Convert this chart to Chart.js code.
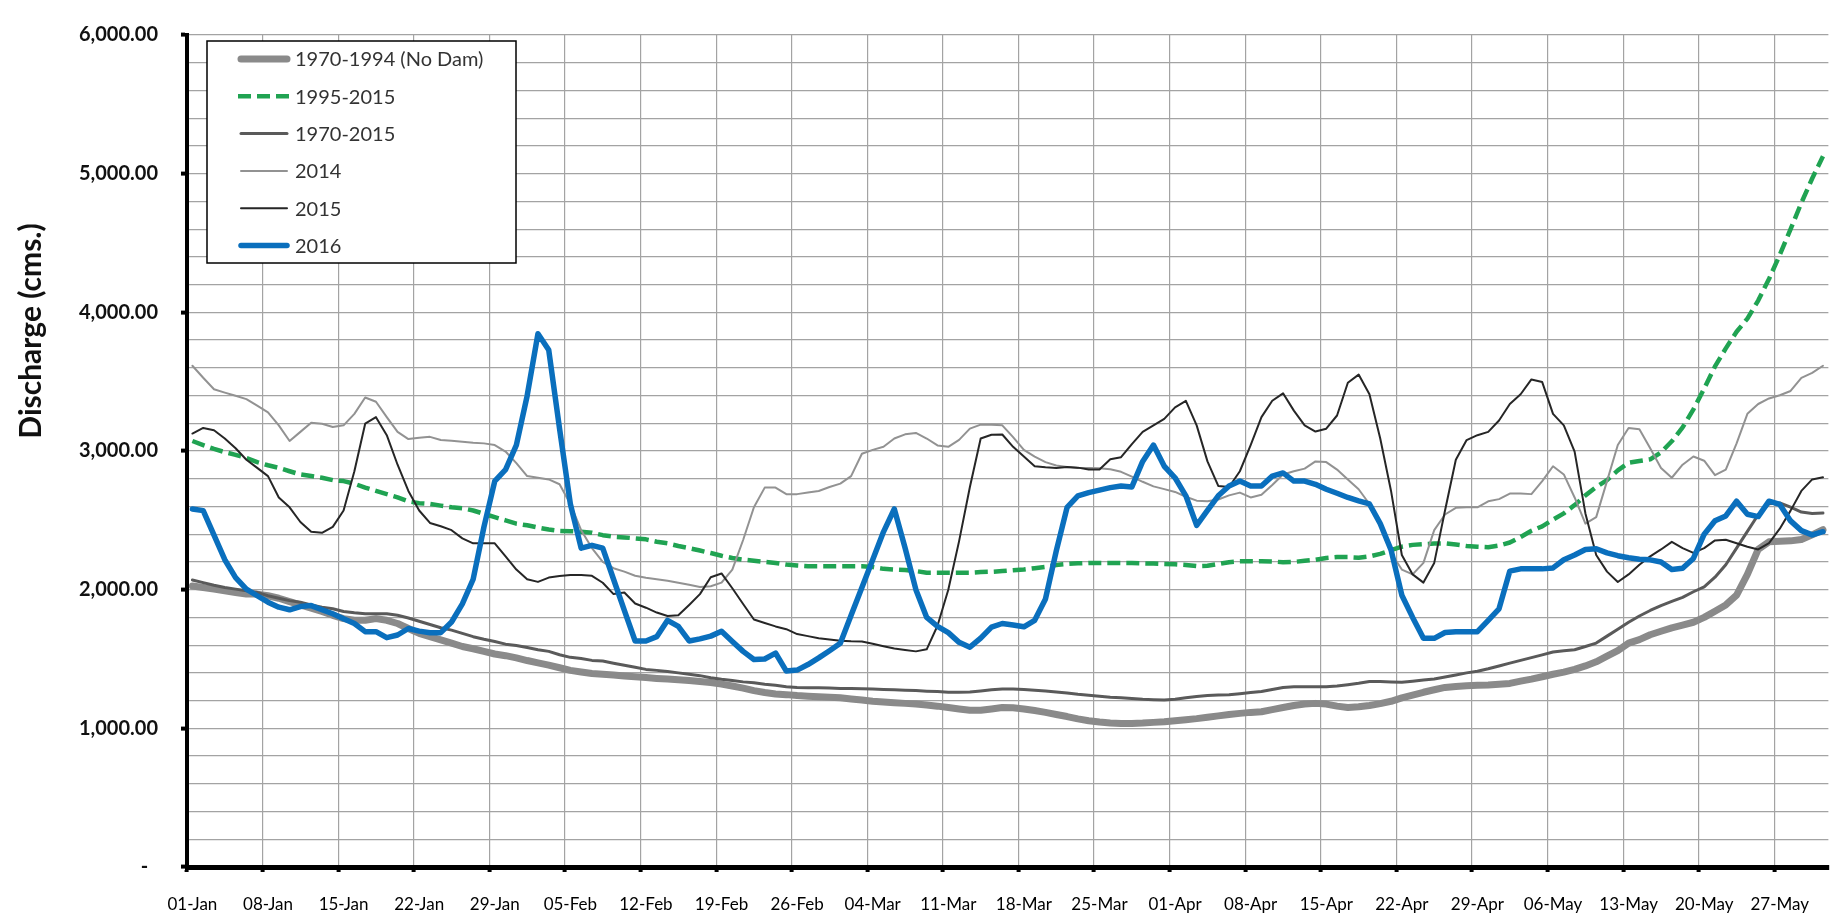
<!DOCTYPE html>
<html>
<head>
<meta charset="utf-8">
<title>Discharge (cms.)</title>
<script src="https://cdn.jsdelivr.net/npm/chart.js@4.4.1/dist/chart.umd.min.js"></script>
<style>
  html, body { margin: 0; padding: 0; background: #ffffff; overflow: hidden; }
  #wrap { width: 1845px; height: 916px; position: relative; }
</style>
</head>
<body>
<div id="wrap"><canvas id="chart" width="1845" height="916"></canvas></div>
<script>
// Calendar of the daily slots (Jan 1 - May 31, leap year)
const monthNames = ['Jan', 'Feb', 'Mar', 'Apr', 'May'];
const monthLengths = [31, 29, 31, 30, 31];
const dayLabels = [];
monthNames.forEach((m, k) => {
  for (let d = 1; d <= monthLengths[k]; d++) dayLabels.push(String(d).padStart(2, '0') + '-' + m);
});
const labelEvery = 7;   // one labelled tick per week

// Daily discharge, cms.
const avgNoDam = [
  2027,2016,2004,1992,1980,1968,1968,1956,1938,1914,
  1890,1867,1843,1815,1791,1779,1779,1791,1779,1756,
  1720,1685,1661,1638,1614,1590,1574,1555,1536,1524,
  1508,1489,1472,1456,1437,1418,1406,1395,1390,1385,
  1378,1372,1366,1360,1355,1350,1345,1338,1330,1319,
  1305,1290,1272,1258,1248,1243,1236,1232,1228,1225,
  1220,1212,1205,1196,1190,1185,1180,1175,1168,1160,
  1150,1140,1130,1130,1140,1150,1148,1140,1128,1115,
  1100,1085,1068,1055,1045,1038,1035,1035,1038,1043,
  1048,1055,1062,1070,1080,1090,1100,1108,1115,1120,
  1135,1150,1165,1175,1180,1175,1160,1150,1155,1165,
  1178,1195,1220,1240,1260,1278,1295,1302,1307,1310,
  1313,1318,1324,1340,1355,1372,1390,1405,1425,1450,
  1480,1520,1560,1615,1640,1675,1700,1725,1745,1765,
  1800,1845,1890,1960,2110,2290,2345,2350,2352,2362,
  2395,2432
];
const avgWithDam = [
  3072,3043,3015,2992,2972,2949,2920,2897,2878,2854,
  2831,2819,2807,2790,2783,2764,2736,2712,2689,2665,
  2637,2623,2618,2606,2594,2587,2571,2547,2523,2500,
  2476,2464,2448,2434,2424,2422,2417,2410,2393,2382,
  2377,2370,2363,2346,2334,2315,2299,2282,2264,2245,
  2228,2216,2209,2200,2193,2181,2174,2169,2169,2169,
  2169,2169,2169,2164,2150,2145,2141,2134,2122,2122,
  2122,2122,2122,2127,2129,2134,2140,2145,2155,2165,
  2178,2185,2190,2193,2193,2193,2193,2192,2190,2188,
  2185,2183,2178,2170,2172,2185,2198,2205,2205,2205,
  2203,2198,2200,2208,2215,2228,2235,2235,2230,2240,
  2258,2285,2310,2323,2328,2333,2334,2325,2315,2310,
  2306,2318,2340,2380,2425,2457,2505,2550,2610,2680,
  2740,2790,2860,2915,2928,2940,2990,3070,3170,3300,
  3450,3610,3740,3860,3955,4085,4240,4415,4600,4790,
  4965,5125
];
const avgAllYears = [
  2070,2051,2032,2016,2004,1992,1980,1956,1938,1921,
  1909,1890,1874,1862,1843,1834,1827,1827,1827,1815,
  1796,1772,1749,1725,1708,1685,1661,1642,1626,1607,
  1598,1583,1567,1555,1531,1512,1503,1490,1485,1470,
  1455,1440,1425,1418,1410,1400,1390,1380,1365,1354,
  1345,1335,1328,1318,1310,1300,1295,1293,1292,1290,
  1288,1287,1285,1283,1280,1278,1275,1272,1268,1265,
  1260,1260,1262,1270,1278,1283,1283,1280,1275,1270,
  1262,1255,1245,1238,1232,1225,1220,1215,1210,1207,
  1205,1210,1220,1230,1236,1240,1243,1250,1258,1265,
  1280,1295,1300,1300,1300,1300,1305,1315,1325,1338,
  1338,1335,1332,1340,1348,1356,1370,1385,1400,1412,
  1430,1450,1470,1490,1510,1530,1550,1560,1567,1590,
  1615,1665,1715,1765,1810,1850,1885,1915,1945,1985,
  2020,2090,2180,2300,2420,2540,2620,2625,2595,2560,
  2550,2552
];
const year2014 = [
  3615,3528,3445,3421,3398,3374,3327,3279,3185,3072,
  3138,3204,3197,3173,3185,3268,3386,3355,3244,3138,
  3086,3095,3102,3079,3074,3067,3060,3055,3043,2996,
  2913,2819,2807,2795,2760,2618,2429,2300,2200,2155,
  2130,2100,2086,2075,2065,2050,2035,2020,2025,2051,
  2145,2358,2594,2736,2736,2689,2689,2700,2712,2740,
  2765,2819,2980,3008,3031,3090,3120,3130,3090,3040,
  3030,3080,3161,3190,3190,3185,3100,3008,2960,2920,
  2895,2885,2878,2878,2875,2868,2850,2815,2778,2745,
  2725,2705,2670,2642,2637,2650,2680,2700,2665,2685,
  2755,2831,2854,2873,2925,2920,2866,2795,2724,2618,
  2464,2264,2145,2110,2193,2429,2542,2590,2594,2594,
  2637,2653,2693,2693,2689,2783,2890,2831,2665,2476,
  2523,2783,3043,3166,3157,3020,2878,2807,2901,2960,
  2930,2826,2866,3055,3268,3339,3379,3402,3433,3527,
  3563,3615
];
const year2015 = [
  3126,3166,3150,3090,3020,2937,2878,2819,2665,2594,
  2488,2417,2410,2453,2571,2854,3197,3244,3114,2901,
  2712,2571,2481,2457,2429,2370,2334,2334,2334,2240,
  2145,2075,2056,2087,2098,2106,2106,2100,2050,1968,
  1980,1900,1870,1835,1810,1815,1890,1968,2090,2117,
  2010,1897,1785,1760,1735,1715,1680,1665,1649,1640,
  1632,1628,1626,1610,1592,1575,1565,1555,1570,1740,
  2000,2350,2740,3090,3117,3119,3030,2960,2890,2882,
  2878,2885,2880,2866,2866,2940,2955,3050,3138,3185,
  3232,3315,3362,3185,2925,2748,2740,2854,3043,3244,
  3362,3416,3291,3185,3140,3161,3256,3492,3551,3409,
  3090,2712,2250,2110,2051,2193,2571,2937,3079,3114,
  3138,3220,3339,3409,3516,3497,3268,3185,2996,2550,
  2250,2130,2055,2110,2180,2240,2290,2345,2300,2265,
  2300,2355,2360,2335,2310,2290,2335,2440,2570,2712,
  2795,2810
];
const year2016 = [
  2582,2570,2393,2216,2087,2004,1956,1910,1874,1855,
  1878,1885,1855,1826,1791,1756,1697,1697,1654,1673,
  1720,1701,1690,1690,1767,1897,2075,2453,2783,2866,
  3043,3398,3846,3728,3161,2618,2299,2320,2299,2075,
  1850,1630,1630,1661,1779,1735,1630,1645,1665,1700,
  1626,1555,1496,1500,1543,1413,1420,1460,1508,1560,
  1614,1815,2016,2216,2417,2582,2300,2000,1800,1735,
  1690,1620,1585,1650,1730,1756,1745,1732,1779,1933,
  2280,2594,2677,2700,2718,2736,2748,2741,2925,3043,
  2890,2807,2677,2464,2571,2677,2748,2783,2748,2748,
  2819,2842,2783,2783,2760,2724,2695,2665,2640,2618,
  2476,2287,1960,1800,1649,1649,1691,1697,1697,1697,
  1779,1862,2134,2150,2150,2150,2157,2216,2250,2290,
  2295,2265,2245,2230,2220,2215,2200,2145,2155,2225,
  2400,2497,2532,2638,2544,2527,2638,2615,2496,2426,
  2395,2418
];

const seriesNames = ['1970-1994 (No Dam)', '1995-2015', '1970-2015', '2014', '2015', '2016'];

const gridColor = '#a3a3a3';
const fmtTick = v => v === 0 ? '-  ' : v.toLocaleString('en-US', { minimumFractionDigits: 2, maximumFractionDigits: 2 });

// Boxed legend in the upper-left corner of the plot
const boxedLegend = {
  id: 'boxedLegend',
  afterDraw(chart) {
    const c = chart.ctx;
    c.save();
    const left = 207, top = 41, width = 309, height = 222;
    c.fillStyle = '#ffffff';
    c.fillRect(left, top, width, height);
    c.strokeStyle = '#000000';
    c.lineWidth = 1.5;
    c.strokeRect(left, top, width, height);
    chart.data.datasets.forEach((ds, i) => {
      const y = 59 + i * 37.3;
      c.beginPath();
      c.setLineDash(ds.borderDash || []);
      c.lineCap = ds.borderDash ? 'butt' : 'round';
      c.lineWidth = ds.borderWidth;
      c.strokeStyle = ds.borderColor;
      c.moveTo(ds.borderDash ? 238 : 241, y);
      c.lineTo(ds.borderDash ? 289 : 287, y);
      c.stroke();
      c.setLineDash([]);
      c.fillStyle = '#333333';
      c.font = '20px Lato';
      c.textAlign = 'left';
      c.textBaseline = 'middle';
      c.fillText(ds.label, 295, y + 1);
    });
    c.restore();
  }
};

// Vertical value-axis caption
const axisCaption = {
  id: 'axisCaption',
  afterDraw(chart) {
    const c = chart.ctx;
    c.save();
    c.translate(31, 331);
    c.rotate(-Math.PI / 2);
    c.font = 'bold 30px Lato';
    c.fillStyle = '#111111';
    c.textAlign = 'center';
    c.textBaseline = 'middle';
    c.fillText('Discharge (cms.)', 0, 0);
    c.restore();
  }
};

function draw() {
  const ctx = document.getElementById('chart').getContext('2d');
  new Chart(ctx, {
    type: 'line',
    data: {
      labels: dayLabels,
      datasets: [
        { label: seriesNames[0], data: avgNoDam,   borderColor: '#8a8a8a', borderWidth: 7,   order: 6 },
        { label: seriesNames[1], data: avgWithDam, borderColor: '#20a352', borderWidth: 4.5, borderDash: [13, 6], borderCapStyle: 'butt', order: 5 },
        { label: seriesNames[2], data: avgAllYears, borderColor: '#5a5a5a', borderWidth: 3, order: 4 },
        { label: seriesNames[3], data: year2014,   borderColor: '#929292', borderWidth: 2,   order: 3 },
        { label: seriesNames[4], data: year2015,   borderColor: '#262626', borderWidth: 2,   order: 2 },
        { label: seriesNames[5], data: year2016,   borderColor: '#0a6fbd', borderWidth: 5.5, order: 1 }
      ]
    },
    options: {
      responsive: false,
      animation: false,
      devicePixelRatio: 1,
      layout: { padding: { top: 20, right: 7, bottom: 0, left: 0 } },
      elements: {
        point: { radius: 0, hoverRadius: 0 },
        line: { tension: 0, borderJoinStyle: 'round', borderCapStyle: 'round', fill: false }
      },
      plugins: {
        legend: { display: false },
        tooltip: { enabled: false },
        title: { display: false }
      },
      scales: {
        x: {
          type: 'category',
          offset: true,
          border: { display: true, color: '#000000', width: 5 },
          grid: {
            offset: true,
            drawTicks: true,
            tickLength: 5,
            tickWidth: 4,
            lineWidth: 1.2,
            color: c => (c.index !== undefined && c.index > 0 && c.index % labelEvery === 0) ? gridColor : 'rgba(0,0,0,0)',
            tickColor: c => (c.index !== undefined && c.index % labelEvery === 0) ? '#000000' : 'rgba(0,0,0,0)'
          },
          ticks: {
            autoSkip: false,
            maxRotation: 0,
            minRotation: 0,
            padding: 22,
            color: '#000000',
            font: { family: 'Lato', size: 17 },
            callback: (v, i) => (i % labelEvery === 0 ? dayLabels[i] : '')
          },
          afterFit: s => { s.height = 49; }
        },
        y: {
          type: 'linear',
          min: 0,
          max: 6000,
          border: { display: true, color: '#000000', width: 4 },
          grid: {
            drawTicks: true,
            tickLength: 6,
            tickWidth: 4,
            lineWidth: 1.2,
            color: c => (c.tick && c.tick.value > 0) ? gridColor : 'rgba(0,0,0,0)',
            tickColor: c => (c.tick && c.tick.value % 1000 === 0) ? '#000000' : 'rgba(0,0,0,0)'
          },
          ticks: {
            stepSize: 200,
            autoSkip: false,
            padding: 23,
            color: '#111111',
            font: { family: 'Lato', size: 20, weight: 'bold' },
            callback: v => (v % 1000 === 0 ? fmtTick(v) : '')
          },
          afterFit: s => { s.width = 187; }
        }
      }
    },
    plugins: [boxedLegend, axisCaption]
  });
}

if (document.fonts && document.fonts.load) {
  Promise.all([
    document.fonts.load('20px Lato'),
    document.fonts.load('bold 20px Lato')
  ]).then(draw, draw);
} else {
  draw();
}
</script>
</body>
</html>
